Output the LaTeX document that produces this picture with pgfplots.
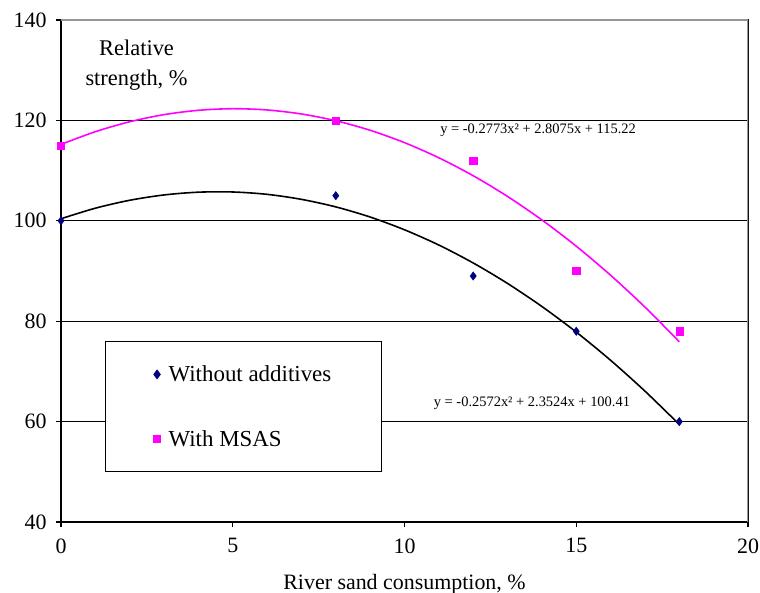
\documentclass[border=0pt]{standalone}
\usepackage{fontspec}
\setmainfont{Liberation Serif}
\usepackage{pgfplots}
\pgfplotsset{compat=1.18}
\definecolor{navy}{RGB}{0,0,128}
\definecolor{mag}{RGB}{255,0,255}
\definecolor{framegray}{RGB}{150,150,150}
\begin{document}
\begin{tikzpicture}
\useasboundingbox (-61bp,-71bp) rectangle (699bp,522bp);
\begin{axis}[
  scale only axis, width=687bp, height=502bp,
  at={(0,0)}, anchor=south west,
  xmin=0, xmax=20, ymin=40, ymax=140,
  xtick={0,5,10,15,20}, ytick={40,60,80,100,120,140},
  ymajorgrids, grid style={black, line width=1.1pt},
  axis line style={black, line width=1.2pt},
  tick align=outside, tick pos=left,
  major tick length=5bp, tick style={black, line width=1.1pt},
  tick label style={font=\fontsize{22}{24}\selectfont},
  xticklabel style={yshift=-8bp},
  yticklabel style={xshift=-6bp},
  /pgf/number format/assume math mode=true,
  xlabel={River sand consumption, \%},
  label style={font=\fontsize{22}{24}\selectfont},
  xlabel style={yshift=-14bp},
  legend style={at={(0.064,0.0996)}, anchor=south west, draw=black, line width=1pt,
    inner xsep=48bp, inner ysep=22bp, row sep=43bp, column sep=6bp,
    font=\fontsize{23}{25}\selectfont},
  legend cell align=left,
  legend image code/.code={\draw[#1] plot coordinates {(0pt,0pt)};},
]
% trend curves (quadratic fits as drawn)
\addplot[black, line width=1.6pt, smooth, no marks, forget plot] coordinates {
(0,100.41)(1,102.51)(2,104.09)(3,105.15)(4,105.70)(5,105.74)(6,105.27)(7,104.27)(8,102.77)(9,100.75)
(10,98.21)(11,95.17)(12,91.60)(13,87.52)(14,82.93)(15,77.83)(16,72.21)(17,66.07)(18,59.42)};
\addplot[mag, line width=1.6pt, smooth, no marks, forget plot] coordinates {
(0,115.22)(1,117.75)(2,119.73)(3,121.15)(4,122.01)(5,122.33)(6,122.08)(7,121.28)(8,119.93)(9,118.03)
(10,115.57)(11,112.55)(12,108.98)(13,104.85)(14,100.17)(15,94.94)(16,89.15)(17,82.81)(18,75.91)};
% measured points
\addplot[only marks, mark=diamond*, mark size=4.2bp, navy, mark options={fill=navy, draw=navy}] coordinates {
(0,100)(8,105)(12,89)(15,78)(18,60)};
\addlegendentry{Without additives}
\addplot[only marks, mark=square*, mark size=3.6bp, mag, mark options={fill=mag, draw=mag}] coordinates {
(0,115)(8,120)(12,112)(15,90)(18,78)};
\addlegendentry{With MSAS}
% frame top/right in gray
\draw[framegray, line width=1.4pt] (rel axis cs:0,1) -- (rel axis cs:1,1) -- (rel axis cs:1,0);
% annotations
\node[align=center, font=\fontsize{22.5}{30}\selectfont] at (axis cs:2.2,131) {Relative\\strength, \%};
\node[fill=white, inner sep=1bp, font=\fontsize{14.5}{16}\selectfont] at (axis cs:13.89,118.1) {y = -0.2773x² + 2.8075x + 115.22};
\node[inner sep=1bp, font=\fontsize{14.5}{16}\selectfont] at (axis cs:13.71,63.7) {y = -0.2572x² + 2.3524x + 100.41};
\end{axis}
\end{tikzpicture}
\end{document}
